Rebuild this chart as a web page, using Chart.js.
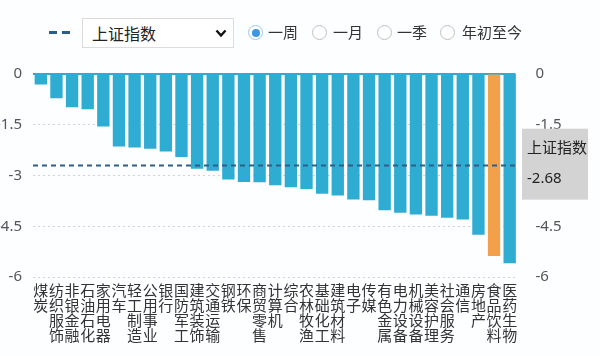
<!DOCTYPE html>
<html><head><meta charset="utf-8">
<script src="https://cdn.jsdelivr.net/npm/chart.js@4/dist/chart.umd.min.js"></script>
<style>
html,body{margin:0;padding:0;background:#fdfeff;width:600px;height:356px;overflow:hidden;font-family:"Noto Sans CJK SC","Noto Sans",sans-serif;}
#wrap{position:relative;width:600px;height:356px;}
#c{position:absolute;left:0;top:0;}
.dash{position:absolute;top:31px;width:8px;height:3px;background:#2b5d8c;}
.sel{position:absolute;left:82px;top:18px;width:150px;height:28px;border:1px solid #dcdcdc;background:#fff;box-sizing:content-box;}
.sel span{position:absolute;left:9px;top:3px;font-size:16px;line-height:22px;color:#222;}
.sel svg{position:absolute;left:132px;top:10px;}
.radio{position:absolute;top:25px;width:15px;height:15px;border:1px solid #bfbfbf;border-radius:50%;background:#fff;box-sizing:border-box;}
.radio.on{border-color:#9cc8ee;}
.radio.on:after{content:"";position:absolute;left:2.5px;top:2.5px;width:8px;height:8px;border-radius:50%;background:#3c97e4;}
.rl{position:absolute;top:22px;font-size:15px;line-height:20px;color:#333;}
</style></head>
<body><div id="wrap">
<canvas id="c" width="600" height="356"></canvas>
<div class="dash" style="left:49px"></div><div class="dash" style="left:62px"></div>
<div class="sel"><span>上证指数</span><svg width="12" height="9" viewBox="0 0 12 9"><polyline points="1.5,1.5 6,6.5 10.5,1.5" fill="none" stroke="#111" stroke-width="2.4"/></svg></div>
<div class="radio on" style="left:248px"></div><div class="rl" style="left:268px">一周</div>
<div class="radio" style="left:312px"></div><div class="rl" style="left:333px">一月</div>
<div class="radio" style="left:377px"></div><div class="rl" style="left:397px">一季</div>
<div class="radio" style="left:440px"></div><div class="rl" style="left:462px">年初至今</div>
</div>
<script>
const categories = ['煤炭','纺织服饰','非银金融','石油石化','家用电器','汽车','轻工制造','公用事业','银行','国防军工','建筑装饰','交通运输','钢铁','环保','商贸零售','计算机','综合','农林牧渔','基础化工','建筑材料','电子','传媒','有色金属','电力设备','机械设备','美容护理','社会服务','通信','房地产','食品饮料','医药生物'];
const weekChange = [-0.31,-0.72,-0.98,-1.04,-1.55,-2.14,-2.17,-2.21,-2.29,-2.45,-2.80,-2.86,-3.12,-3.19,-3.20,-3.29,-3.35,-3.40,-3.54,-3.59,-3.71,-3.73,-4.03,-4.10,-4.15,-4.19,-4.25,-4.30,-4.75,-5.38,-5.59];
const highlighted = '食品饮料';
const indexName = '上证指数';
const indexValue = -2.68;
const yTicks = [0,-1.5,-3,-4.5,-6];

const BLUE = '#2eacd2', ORANGE = '#f3a04b';
const barColors = categories.map(c => c === highlighted ? ORANGE : BLUE);

const refPlugin = {
  id: 'ref',
  beforeDatasetsDraw(chart){
    const {ctx, chartArea:a, scales:{y}} = chart;
    const y0 = y.getPixelForValue(0);
    ctx.save();
    ctx.strokeStyle = BLUE; ctx.lineWidth = 2;
    ctx.beginPath(); ctx.moveTo(a.left, y0); ctx.lineTo(a.right - 2, y0); ctx.stroke();
    ctx.restore();
  },
  afterDatasetsDraw(chart){
    const {ctx, chartArea:a, scales:{y}} = chart;
    const yi = Math.round(y.getPixelForValue(indexValue)) + 0.5;
    ctx.save();
    ctx.strokeStyle = '#2f5f86'; ctx.lineWidth = 2; ctx.setLineDash([5,4]);
    ctx.beginPath(); ctx.moveTo(a.left, yi); ctx.lineTo(a.right - 2, yi); ctx.stroke();
    ctx.restore();
  },
  afterDraw(chart){
    const {ctx, chartArea:a, scales:{y}} = chart;
    const yi = y.getPixelForValue(indexValue);
    ctx.save();
    ctx.fillStyle = '#d3d3d3';
    ctx.fillRect(a.right + 4.5, yi - 36, 66, 71);
    ctx.fillStyle = '#222';
    ctx.textBaseline = 'middle';
    ctx.font = '15px "Noto Sans CJK SC"';
    ctx.fillText(indexName, a.right + 9.5, yi - 17);
    ctx.font = '15px "Noto Sans", "Noto Sans CJK SC"';
    ctx.fillText(indexValue.toFixed(2), a.right + 9.5, yi + 14);
    ctx.restore();
  }
};

const tickFont = {family:'"Noto Sans", sans-serif', size:15};
new Chart(document.getElementById('c'), {
  type: 'bar',
  data: {
    labels: categories,
    datasets: [{data: weekChange, backgroundColor: barColors, borderWidth: 0, categoryPercentage: 1, barPercentage: 0.79}]
  },
  options: {
    responsive: false, animation: false,
    layout: {padding: {top: 74, bottom: 0, left: 0, right: 0}},
    plugins: {legend: {display: false}, tooltip: {enabled: false}},
    scales: {
      x: {
        grid: {display: false}, border: {display: false},
        ticks: {autoSkip: false, maxRotation: 0, minRotation: 0, padding: -2, color: '#333',
          font: {family: '"Noto Sans CJK SC"', size: 15, lineHeight: 1},
          callback: (v, i) => categories[i].split('')},
        afterFit: s => { s.height = 79; }
      },
      y: {
        position: 'left', min: -6, max: 0,
        afterBuildTicks: s => { s.ticks = yTicks.map(v => ({value: v})); },
        grid: {drawTicks: false, color: c => c.tick && c.tick.value === 0 ? 'rgba(0,0,0,0)' : '#cdd5dc', lineWidth: 1},
        border: {display: false, dash: [2,3]},
        ticks: {padding: 11, color: '#555', font: tickFont},
        afterFit: s => { s.width = 33; }
      },
      y2: {
        position: 'right', min: -6, max: 0,
        afterBuildTicks: s => { s.ticks = yTicks.map(v => ({value: v})); },
        grid: {display: false}, border: {display: false},
        ticks: {padding: 10, color: '#555', font: tickFont},
        afterFit: s => { s.width = 82.5; }
      }
    }
  },
  plugins: [refPlugin]
});
</script>
</body></html>
